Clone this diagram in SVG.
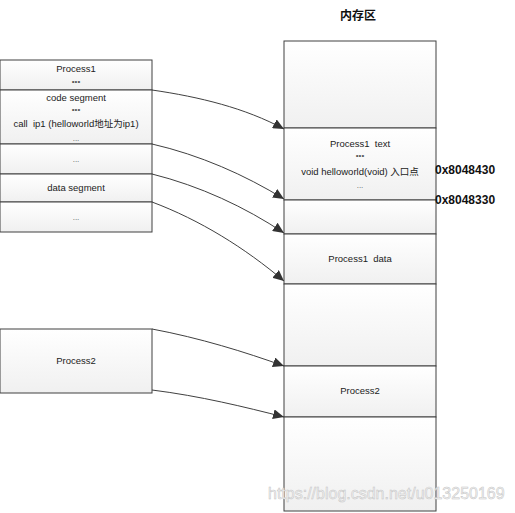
<svg xmlns="http://www.w3.org/2000/svg" width="515" height="513" viewBox="0 0 515 513">
<style>
.box{fill:url(#g);stroke:#404040;stroke-width:1}
.t{font-family:"Liberation Sans","Noto Sans CJK SC",sans-serif;font-size:9.5px;fill:#222;text-anchor:middle;white-space:pre}
.d{font-family:"Liberation Sans",sans-serif;font-size:8px;fill:#555;text-anchor:middle}
.addr{font-family:"Liberation Sans",sans-serif;font-size:12px;font-weight:bold;fill:#111}
.c{fill:none;stroke:#404040;stroke-width:1}
</style>
<defs>
<linearGradient id="g" x1="0" y1="0" x2="0" y2="1">
<stop offset="0" stop-color="#ffffff"/>
<stop offset="1" stop-color="#f0f0f0"/>
</linearGradient>
<marker id="ah" markerWidth="11" markerHeight="10" refX="11" refY="5" orient="auto" markerUnits="userSpaceOnUse">
<path d="M0,0 L11,5 L0,10 Z" fill="#333"/>
</marker>
</defs>
<rect width="515" height="513" fill="#fff"/>
<text x="358" y="20" font-family="'Liberation Serif','Noto Sans CJK SC',serif" font-size="12" font-weight="bold" text-anchor="middle" fill="#111">内存区</text>

<g id="p1-header"><rect class="box" x="0" y="60" width="152" height="30"/><text class="t" x="76" y="72">Process1</text><text class="d" x="76" y="84">•••</text></g>
<g id="p1-code"><rect class="box" x="0" y="90" width="152" height="54"/><text class="t" x="76" y="101">code segment</text><text class="d" x="76" y="112">•••</text><text class="t" x="76" y="127" xml:space="preserve">call  ip1 (helloworld地址为ip1)</text><text class="d" x="76" y="141">...</text></g>
<g id="p1-gap"><rect class="box" x="0" y="144" width="152" height="30"/><text class="d" x="76" y="162">...</text></g>
<g id="p1-data"><rect class="box" x="0" y="174" width="152" height="28"/><text class="t" x="76" y="191">data segment</text></g>
<g id="p1-rest"><rect class="box" x="0" y="202" width="152" height="30"/><text class="d" x="76" y="220">...</text></g>

<g id="p2"><rect class="box" x="0" y="329" width="152" height="64"/><text class="t" x="76" y="364">Process2</text></g>

<g id="m-top"><rect class="box" x="284" y="41" width="152" height="87"/></g>
<g id="m-text"><rect class="box" x="284" y="128" width="152" height="72"/><text class="t" x="360" y="147" xml:space="preserve">Process1  text</text><text class="d" x="360" y="158">•••</text><text class="t" x="360" y="175">void helloworld(void) 入口点</text><text class="d" x="360" y="188">...</text></g>
<g id="m-gap"><rect class="box" x="284" y="200" width="152" height="34"/></g>
<g id="m-data"><rect class="box" x="284" y="234" width="152" height="50"/><text class="t" x="360" y="262" xml:space="preserve">Process1  data</text></g>
<g id="m-free"><rect class="box" x="284" y="284" width="152" height="82"/></g>
<g id="m-p2"><rect class="box" x="284" y="366" width="152" height="51"/><text class="t" x="360" y="394">Process2</text></g>
<g id="m-bottom"><rect class="box" x="284" y="417" width="152" height="94"/></g>

<g id="labels"><text class="addr" x="435" y="174">0x8048430</text><text class="addr" x="435" y="204">0x8048330</text></g>

<g id="connectors">
<path class="c" marker-end="url(#ah)" d="M152,90 C200,97 245,108 284,129"/>
<path class="c" marker-end="url(#ah)" d="M152,144 C200,155 245,175 284,199"/>
<path class="c" marker-end="url(#ah)" d="M152,174 C200,186 245,207 284,233"/>
<path class="c" marker-end="url(#ah)" d="M152,202 C200,220 245,248 284,281"/>
<path class="c" marker-end="url(#ah)" d="M152,329 C200,338 245,352 284,366"/>
<path class="c" marker-end="url(#ah)" d="M152,390 C200,396 245,407 284,417"/>
</g>
<text x="268" y="499" font-family="'Liberation Sans',sans-serif" font-size="16" fill="#f4f4f4" stroke="#c4c4c4" stroke-width="0.5">https://blog.csdn.net/u013250169</text>
</svg>
